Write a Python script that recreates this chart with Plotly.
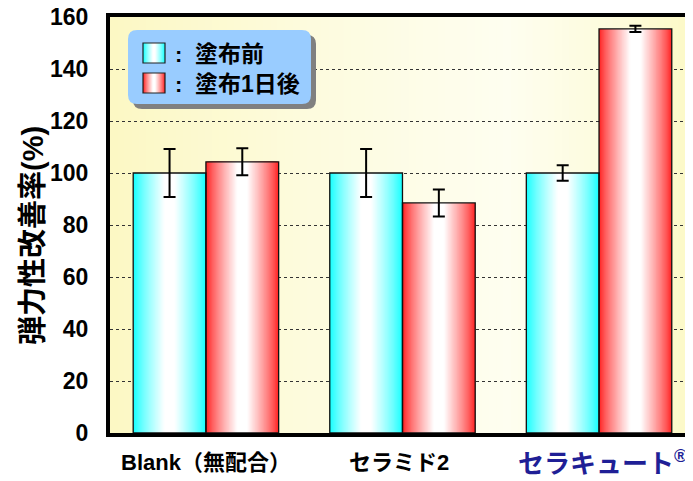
import plotly.graph_objects as go

# ---------------- data ----------------
categories = ["Blank（無配合）", "セラミド2", "セラキュート"]
tick_labels = ["Blank（無配合）", "セラミド2", "セラキュート<sup>®</sup>"]
before_vals = [100, 100, 100]
before_err = [9.2, 9.2, 3.0]
after_vals = [104.3, 88.5, 155.4]
after_err = [5.2, 5.2, 1.2]
series_names = ["塗布前", "塗布1日後"]
y_ticks = [0, 20, 40, 60, 80, 100, 120, 140, 160]

# ---------------- geometry helpers ----------------
# the page body has an 8px margin, so the figure is made 8px smaller
OFF = 8
W, H = 693 - OFF, 481 - OFF
ML, MR, MT, MB = 110 - OFF, 0, 17 - OFF, 481 - 433
PX0, PX1, PY0, PY1 = 110, 693, 17, 433   # plot area in window pixels


def px2paper_x(px):
    return (px - PX0) / (PX1 - PX0)


def px2paper_y(py):
    return (PY1 - py) / (PY1 - PY0)


def mix(c1, c2, t):
    return "rgb(%d,%d,%d)" % tuple(round(a + (b - a) * t) for a, b in zip(c1, c2))


FONT = "Liberation Sans, Noto Sans CJK JP, sans-serif"
CYAN = (20, 255, 255)
RED = (255, 35, 35)
WHITE = (255, 255, 255)

fig = go.Figure()

BW = 0.37
N = 30
series = [
    (before_vals, before_err, CYAN, -BW),
    (after_vals, after_err, RED, 0.0),
]
for vals, errs, col, off in series:
    center = off + BW / 2
    for k in range(N):
        wk = BW * (1 - k / N)
        t = min(1.0, (k / (N * 0.85)) ** 0.8)
        fig.add_trace(go.Bar(
            x=categories, y=vals, width=wk, offset=center - wk / 2,
            marker=dict(color=mix(col, WHITE, t), line=dict(width=0)),
            showlegend=False, hoverinfo="skip"))
for (vals, errs, col, off), name in zip(series, series_names):
    fig.add_trace(go.Bar(
        x=categories, y=vals, width=BW, offset=off, name=name,
        marker=dict(color="rgba(0,0,0,0)", line=dict(color="#111", width=1.3)),
        error_y=dict(type="data", array=errs, visible=True,
                     color="black", thickness=2, width=6),
        showlegend=False))

shapes = []
# background gradient (left yellow -> light -> yellow at right)
bg_stops = [(0.0, (252, 248, 196)), (0.35, (253, 251, 222)),
            (0.68, (254, 254, 240)), (0.88, (253, 251, 218)), (1.0, (252, 249, 198))]


def bg_col(x):
    for (x0, c0), (x1, c1) in zip(bg_stops[:-1], bg_stops[1:]):
        if x0 <= x <= x1:
            return mix(c0, c1, (x - x0) / (x1 - x0))
    return mix(bg_stops[-1][1], bg_stops[-1][1], 0)


NB = 80
for i in range(NB):
    x0 = i / NB
    shapes.append(dict(type="rect", xref="paper", yref="paper", x0=x0, x1=1,
                       y0=0, y1=1, fillcolor=bg_col(x0 + 0.5 / NB),
                       line=dict(width=0), layer="below"))


def rounded_path(x0, y0, x1, y1, r):
    X = px2paper_x
    Y = px2paper_y
    return (f"M {X(x0 + r)},{Y(y0)} L {X(x1 - r)},{Y(y0)} Q {X(x1)},{Y(y0)} {X(x1)},{Y(y0 + r)} "
            f"L {X(x1)},{Y(y1 - r)} Q {X(x1)},{Y(y1)} {X(x1 - r)},{Y(y1)} "
            f"L {X(x0 + r)},{Y(y1)} Q {X(x0)},{Y(y1)} {X(x0)},{Y(y1 - r)} "
            f"L {X(x0)},{Y(y0 + r)} Q {X(x0)},{Y(y0)} {X(x0 + r)},{Y(y0)} Z")


# legend box with shadow
shapes.append(dict(type="path", xref="paper", yref="paper",
                   path=rounded_path(133, 35, 316, 109, 9),
                   fillcolor="#808080", line=dict(width=0)))
shapes.append(dict(type="path", xref="paper", yref="paper",
                   path=rounded_path(128, 30, 311, 104, 9),
                   fillcolor="#99ccff", line=dict(width=0)))

# legend swatches (gradient)
for (sy0, sy1), col in [((43, 63), CYAN), ((73, 93), RED)]:
    sx0, sx1 = 143, 165
    half = (sx1 - sx0) / 2
    M = 10
    for k in range(M):
        d = half * k / M
        t = min(1.0, (k / (M * 0.85)) ** 0.8)
        shapes.append(dict(type="rect", xref="paper", yref="paper",
                           x0=px2paper_x(sx0 + d), x1=px2paper_x(sx1 - d),
                           y0=px2paper_y(sy1), y1=px2paper_y(sy0),
                           fillcolor=mix(col, WHITE, t), line=dict(width=0)))
    shapes.append(dict(type="rect", xref="paper", yref="paper",
                       x0=px2paper_x(sx0), x1=px2paper_x(sx1),
                       y0=px2paper_y(sy1), y1=px2paper_y(sy0),
                       fillcolor="rgba(0,0,0,0)", line=dict(color="#222", width=1.2)))

annotations = []
for name, cy in zip(series_names, [54, 84]):
    annotations.append(dict(xref="paper", yref="paper", x=px2paper_x(178), y=px2paper_y(cy),
                            text="<b>:</b>", showarrow=False, xanchor="center", yanchor="middle",
                            font=dict(family=FONT, size=22, color="black")))
    annotations.append(dict(xref="paper", yref="paper", x=px2paper_x(193), y=px2paper_y(cy),
                            text=f"<b>{name}</b>", showarrow=False, xanchor="left", yanchor="middle",
                            font=dict(family=FONT, size=23, color="black")))

# x category labels
label_styles = [dict(size=22, color="black"), dict(size=22, color="black"),
                dict(size=26, color="#1f1f96")]
label_shift = [0, -3, 4]
for cat, lab, st, sh in zip(categories, tick_labels, label_styles, label_shift):
    annotations.append(dict(xref="x", yref="paper", x=cat, y=px2paper_y(462),
                            text=f"<b>{lab}</b>", showarrow=False, xanchor="center",
                            xshift=sh, yanchor="middle", font=dict(family=FONT, **st)))

# y-axis title
annotations.append(dict(xref="paper", yref="paper", x=px2paper_x(33), y=px2paper_y(236),
                        text="<b>弾力性改善率(%)</b>", textangle=-90, showarrow=False,
                        xanchor="center", yanchor="middle",
                        font=dict(family=FONT, size=29, color="black")))

fig.update_layout(
    width=W, height=H,
    margin=dict(l=ML, r=MR, t=MT, b=MB, autoexpand=False),
    paper_bgcolor="white", plot_bgcolor="#fdfad0",
    barmode="overlay",
    shapes=shapes, annotations=annotations,
    showlegend=False,
    xaxis=dict(type="category", categoryorder="array", categoryarray=categories,
               range=[-0.488, 2.478], showticklabels=False, ticks="",
               showline=True, linewidth=4, linecolor="black", mirror=True,
               showgrid=False, zeroline=False, automargin=False),
    yaxis=dict(range=[0, 160], tickvals=y_ticks, ticks="",
               tickfont=dict(family=FONT, size=23, color="black", weight="bold"),
               ticklabelstandoff=13, automargin=False, ticklabeloverflow="allow",
               showline=True, linewidth=4, linecolor="black",
               showgrid=True, gridcolor="#333", gridwidth=1, griddash="dot",
               zeroline=False),
)

fig.write_html("out.html")
